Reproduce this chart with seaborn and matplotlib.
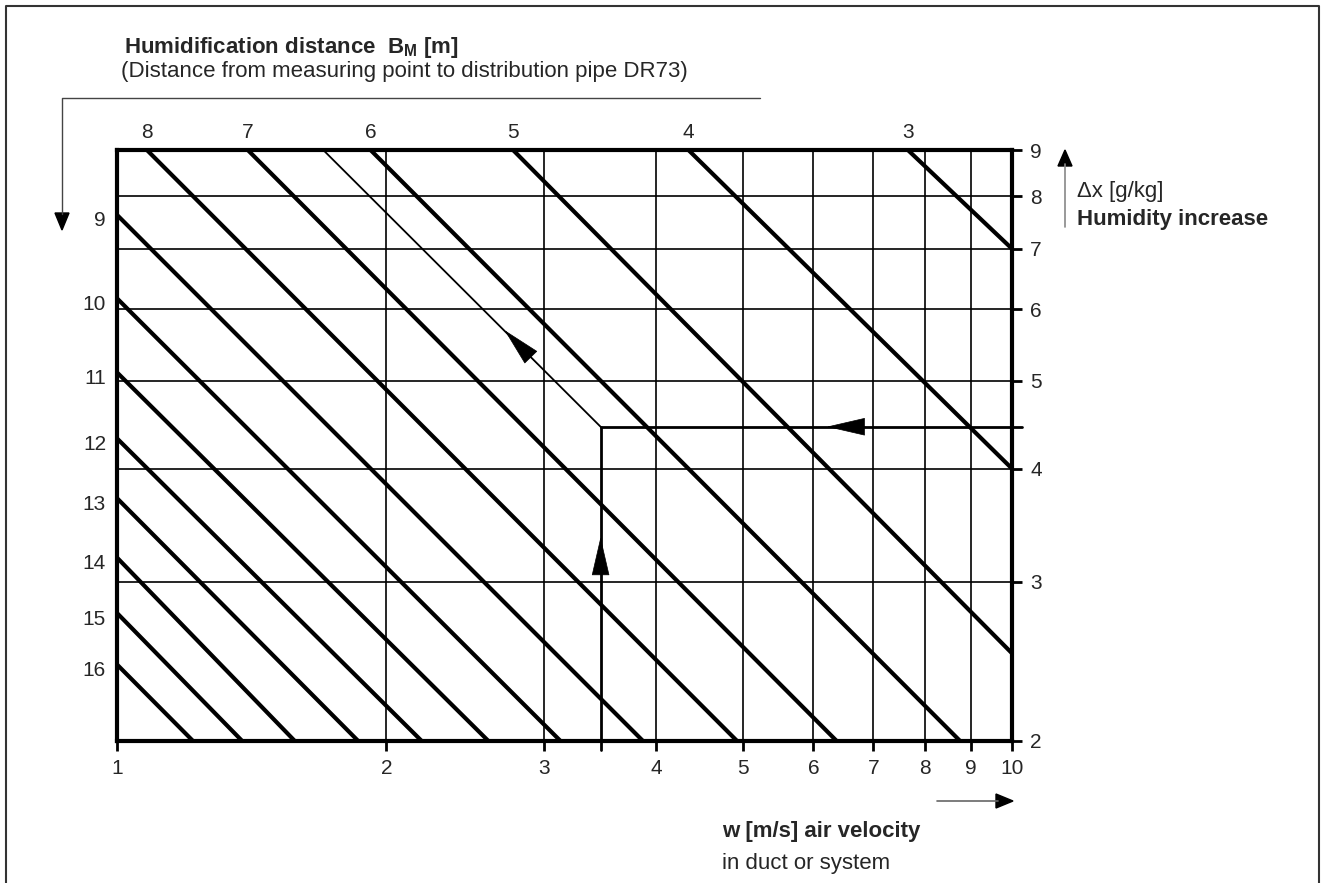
import numpy as np
import pandas as pd
import matplotlib
matplotlib.use("Agg")
import matplotlib.pyplot as plt
import seaborn as sns
from matplotlib.ticker import FixedLocator, FixedFormatter, NullLocator
from matplotlib.lines import Line2D

# ---------------- data ----------------
B_M = [3, 4, 5, 6, 7, 8, 9, 10, 11, 12, 13, 14, 15, 16]
w_start = [7.65, 4.35, 2.77, 1.92, 1.40, 1.08, 1.0, 1.0, 1.0, 1.0, 1.0, 1.0, 1.0, 1.0]
dx_start = [9.0, 9.0, 9.0, 9.0, 9.0, 9.0, 7.63, 6.17, 5.11, 4.32, 3.71, 3.19, 2.77, 2.43]
w_end = [10.0, 10.0, 10.0, 8.75, 6.37, 4.93, 3.87, 3.13, 2.60, 2.19, 1.86, 1.58, 1.38, 1.216]
dx_end = [7.0, 4.0, 2.5, 2.0, 2.0, 2.0, 2.0, 2.0, 2.0, 2.0, 2.0, 2.0, 2.0, 2.0]

w_ticks = [1, 2, 3, 4, 5, 6, 7, 8, 9, 10]
dx_ticks = [2, 3, 4, 5, 6, 7, 8, 9]

# worked example
ex_w = 3.47
ex_dx = 4.45
ex_diag_w = [1.70, 3.47]
ex_diag_dx = [9.0, 4.45]
ex_h_w = [10.26, 3.47]
ex_v_dx = [1.955, 4.45]
arrow_h = ((6.21, 4.45), (6.85, 4.45))
arrow_v = ((3.47, 3.36), (3.47, 3.07))
arrow_d = ((2.71, 5.69), (2.95, 5.22))

# ---------------- style ----------------
sns.set_theme(style="white")
plt.rcParams["font.family"] = ["Liberation Sans", "DejaVu Sans"]
NARROW = ["Liberation Sans Narrow", "Liberation Sans", "DejaVu Sans"]

W, H = 1325, 883
fig = plt.figure(figsize=(W / 100, H / 100), dpi=100)
left, right, top, bottom = 117, 1012, 150, 741
ax = fig.add_axes([left / W, 1 - bottom / H, (right - left) / W, (bottom - top) / H])

rows = []
for b, ws, ds, we, de in zip(B_M, w_start, dx_start, w_end, dx_end):
    rows.append({"B": b, "w": ws, "dx": ds, "o": 0})
    rows.append({"B": b, "w": we, "dx": de, "o": 1})
df = pd.DataFrame(rows)

ax.set_xscale("log")
ax.set_yscale("log")
sns.lineplot(data=df, x="w", y="dx", units="B", estimator=None, sort=False,
             color="black", lw=3.0, ax=ax, legend=False, zorder=3)

ax.set_xlim(1, 10)
ax.set_ylim(2, 9)

# grid
ax.xaxis.set_major_locator(FixedLocator(w_ticks))
ax.xaxis.set_major_formatter(FixedFormatter([str(v) for v in w_ticks]))
ax.xaxis.set_minor_locator(NullLocator())
ax.yaxis.set_major_locator(FixedLocator(dx_ticks))
ax.yaxis.set_major_formatter(FixedFormatter([str(v) for v in dx_ticks]))
ax.yaxis.set_minor_locator(NullLocator())
ax.yaxis.tick_right()
ax.grid(True, which="major", color="black", lw=1.2, zorder=1)
ax.set_axisbelow(True)
ax.tick_params(axis="x", which="major", direction="out", length=7, width=2,
               color="black", labelsize=15, pad=6, bottom=True, top=False)
ax.tick_params(axis="y", which="major", direction="out", length=7, width=2,
               color="black", labelsize=15, pad=6, right=True, left=False)
for s in ax.spines.values():
    s.set_color("black")
    s.set_linewidth(3.0)
ax.set_xlabel("")
ax.set_ylabel("")

# worked example
ax.plot(ex_diag_w, ex_diag_dx, color="black", lw=1.3, zorder=4, clip_on=False)
ax.plot(ex_h_w, [ex_dx, ex_dx], color="black", lw=2.0, zorder=4, clip_on=False)
ax.plot([ex_w, ex_w], ex_v_dx, color="black", lw=2.0, zorder=4, clip_on=False)
for tip, base in (arrow_h, arrow_v, arrow_d):
    ax.annotate("", xy=tip, xytext=base,
                arrowprops=dict(arrowstyle="-|>,head_length=2.6,head_width=0.6",
                                mutation_scale=10, color="black", lw=0.5,
                                shrinkA=0, shrinkB=0), zorder=5)

# B_M labels along top and left
for b, ws, ds in zip(B_M, w_start, dx_start):
    if ds >= 9.0:
        ax.annotate(str(b), xy=(ws, 9.0), xytext=(0, 17), textcoords="offset pixels",
                    ha="center", va="center", fontsize=15)
    else:
        ax.annotate(str(b), xy=(1.0, ds), xytext=(-11, -6), textcoords="offset pixels",
                    ha="right", va="center", fontsize=15)

# ---------------- figure-level annotations ----------------
def fp(x, y):
    return (x / W, 1 - y / H)

fig.text(*fp(124, 47), r"Humidification distance  B$_\mathregular{M}$ [m]", fontsize=16,
         fontweight="bold", family=NARROW, ha="left", va="center")
fig.text(*fp(121, 71), "(Distance from measuring point to distribution pipe DR73)",
         fontsize=16, family=NARROW, ha="left", va="center")

# header line and downward arrow
x0, y0 = fp(62, 98)
x1, _ = fp(760, 98)
_, y2 = fp(62, 214)
fig.add_artist(Line2D([x1, x0, x0], [y0, y0, y2], transform=fig.transFigure,
                      color="#444444", lw=1.0))
fig.add_artist(matplotlib.patches.Polygon([fp(55, 213), fp(69, 213), fp(62, 230)],
                                          closed=True, transform=fig.transFigure,
                                          color="black"))

# right arrow + labels
fig.add_artist(Line2D([fp(1065, 227)[0]] * 2, [fp(0, 227)[1], fp(0, 164)[1]],
                      transform=fig.transFigure, color="#888888", lw=1.2))
fig.add_artist(matplotlib.patches.Polygon([fp(1058, 166), fp(1072, 166), fp(1065, 150)],
                                          closed=True, transform=fig.transFigure,
                                          color="black"))
fig.text(*fp(1077, 191), "\u0394x [g/kg]", fontsize=16, family=NARROW,
         ha="left", va="center")
fig.text(*fp(1077, 219), "Humidity increase", fontsize=16, family=NARROW,
         fontweight="bold", ha="left", va="center")

# bottom arrow + labels
fig.add_artist(Line2D([fp(937, 0)[0], fp(998, 0)[0]], [fp(0, 801)[1]] * 2,
                      transform=fig.transFigure, color="#666666", lw=1.2))
fig.add_artist(matplotlib.patches.Polygon([fp(996, 794), fp(996, 808), fp(1013, 801)],
                                          closed=True, transform=fig.transFigure,
                                          color="black"))
fig.text(*fp(722, 832), "w [m/s] air velocity", fontsize=16, family=NARROW,
         fontweight="bold", ha="left", va="center")
fig.text(*fp(722, 863), "in duct or system", fontsize=16, family=NARROW,
         ha="left", va="center")

# outer frame
fig.add_artist(Line2D([fp(6, 0)[0], fp(6, 0)[0], fp(1319, 0)[0], fp(1319, 0)[0]],
                      [fp(0, 900)[1], fp(0, 6)[1], fp(0, 6)[1], fp(0, 900)[1]],
                      transform=fig.transFigure, color="#333333", lw=1.5))

fig.savefig("out.png", dpi=100)
